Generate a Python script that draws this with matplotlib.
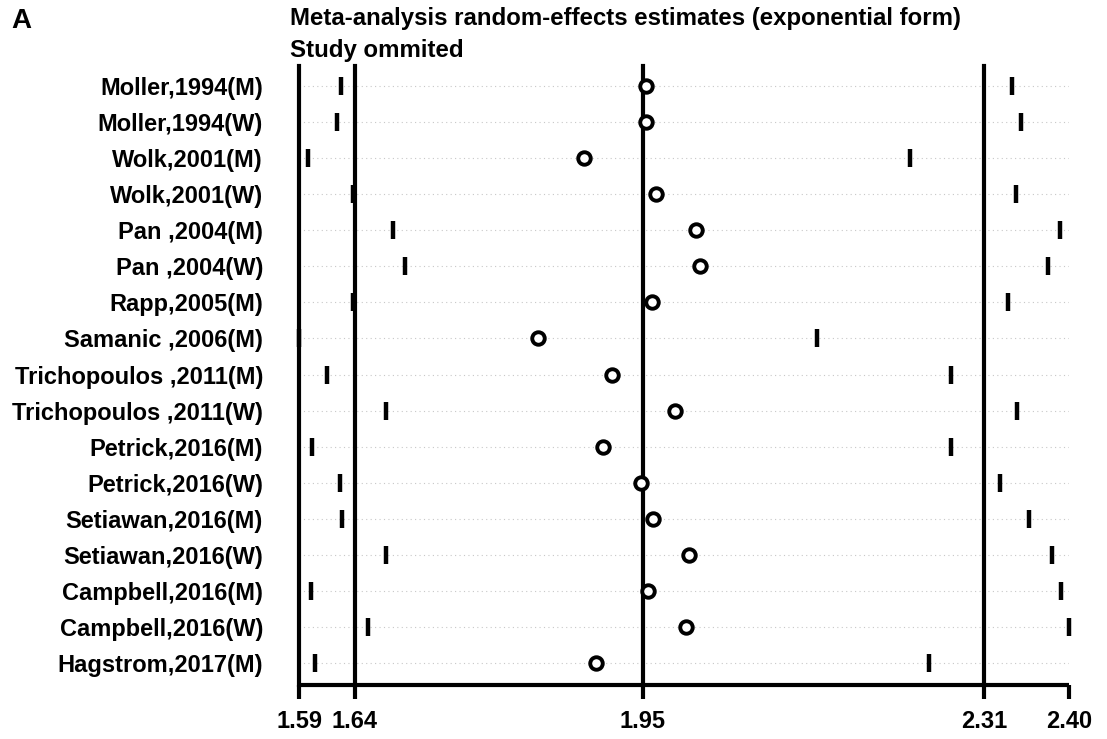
import matplotlib
matplotlib.use("Agg")
import matplotlib.pyplot as plt

studies = ["Moller,1994(M)", "Moller,1994(W)", "Wolk,2001(M)", "Wolk,2001(W)",
           "Pan ,2004(M)", "Pan ,2004(W)", "Rapp,2005(M)", "Samanic ,2006(M)",
           "Trichopoulos ,2011(M)", "Trichopoulos ,2011(W)", "Petrick,2016(M)",
           "Petrick,2016(W)", "Setiawan,2016(M)", "Setiawan,2016(W)",
           "Campbell,2016(M)", "Campbell,2016(W)", "Hagstrom,2017(M)"]
estimate = [1.954, 1.955, 1.888, 1.965, 2.008, 2.012, 1.961, 1.840, 1.918,
            1.985, 1.909, 1.949, 1.962, 2.000, 1.957, 1.997, 1.901]
lower = [1.630, 1.625, 1.595, 1.643, 1.685, 1.698, 1.642, 1.585, 1.615,
         1.678, 1.599, 1.629, 1.631, 1.678, 1.598, 1.658, 1.602]
upper = [2.344, 2.354, 2.236, 2.349, 2.395, 2.383, 2.340, 2.137, 2.279,
         2.350, 2.279, 2.331, 2.362, 2.387, 2.397, 2.405, 2.256]
combined_lower = 1.6445
combined_est = 1.951
combined_upper = 2.315
axis_min = 1.585
axis_max = 2.405
tick_values = [axis_min, combined_lower, combined_est, combined_upper, axis_max]
tick_labels = ["1.59", "1.64", "1.95", "2.31", "2.40"]

plt.rcParams['font.family'] = ['Liberation Sans', 'DejaVu Sans']
plt.rcParams['font.weight'] = 'bold'

fig = plt.figure(figsize=(11.07, 7.39), dpi=100)
ax = fig.add_axes([299/1107, 54/739, 770/1107, 619/739])

rows = list(range(1, len(studies) + 1))

for r in rows:
    ax.axhline(r, color="#c8c8c8", lw=0.8, ls=(0, (1, 3)), zorder=0)

for v in [axis_min, combined_lower, combined_est, combined_upper]:
    ax.axvline(v, color="black", lw=3, zorder=1, clip_on=False)

ax.plot(lower, rows, ls="none", marker="|", ms=12.5, mew=3.2, color="black",
        zorder=3, clip_on=False)
ax.plot(upper, rows, ls="none", marker="|", ms=12.5, mew=3.2, color="black",
        zorder=3, clip_on=False)
ax.plot(estimate, rows, ls="none", marker="o", ms=9, mew=2.8,
        mfc="white", mec="black", zorder=4)

ax.set_xlim(axis_min, axis_max)
ax.set_ylim(17.61, 0.445)
ax.set_yticks(rows)
ax.set_yticklabels(studies, fontsize=17, fontweight="bold")
ax.tick_params(axis="y", length=0, pad=26)
ax.set_xticks(tick_values)
ax.set_xticklabels(tick_labels, fontsize=17, fontweight="bold")
ax.tick_params(axis="x", length=10, width=3, pad=8)

for s in ["top", "right", "left"]:
    ax.spines[s].set_visible(False)
ax.spines["bottom"].set_linewidth(3)
ax.spines["bottom"].set_capstyle("butt")

fig.text(290/1107, 1 - 18/739, "Meta-analysis random-effects estimates (exponential form)",
         fontsize=17.3, fontweight="bold", va="center", ha="left")
fig.text(290/1107, 1 - 50/739, "Study ommited",
         fontsize=17.3, fontweight="bold", va="center", ha="left")
fig.text(11/1107, 1 - 21/739, "A", fontsize=20, fontweight="bold", va="center", ha="left")

fig.savefig("out.png", dpi=100)
